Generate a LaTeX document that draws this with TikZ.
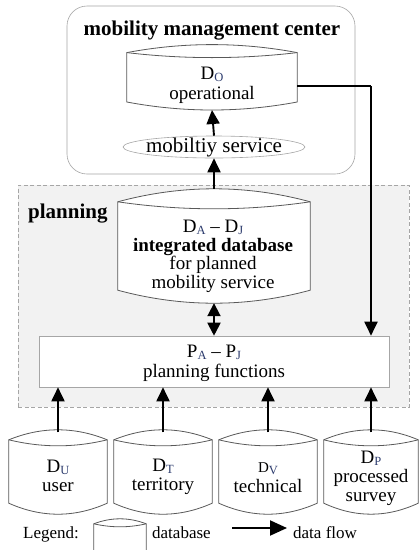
\documentclass[tikz,border=0pt]{standalone}
\usepackage{fontspec}
\setmainfont{Liberation Serif}
\usetikzlibrary{calc,arrows.meta,shapes.geometric}
\definecolor{subc}{RGB}{45,60,110}
\definecolor{regfill}{RGB}{242,242,242}
\newcommand\subx[1]{\raisebox{-0.12em}{\fontsize{12.5}{12.5}\selectfont\color{subc}#1}}
\newcommand\dbdraw[5]{%
 \filldraw[dbline, fill=#5] (#1.north west)
  .. controls ($(#1.north west)!0.333!(#1.north east)+(0,{-1.333*#2})$) and ($(#1.north west)!0.667!(#1.north east)+(0,{-1.333*#2})$) .. (#1.north east)
  -- (#1.south east)
  .. controls ($(#1.south west)!0.667!(#1.south east)+(0,{1.333*#4})$) and ($(#1.south west)!0.333!(#1.south east)+(0,{1.333*#4})$) .. (#1.south west) -- cycle;
 \draw[dbline] (#1.north west) .. controls ($(#1.north west)!0.333!(#1.north east)+(0,{1.333*#3})$) and ($(#1.north west)!0.667!(#1.north east)+(0,{1.333*#3})$) .. (#1.north east);
}
\begin{document}
\begin{tikzpicture}[x=1pt,y=-1pt,
  txt/.style={font=\fontsize{19}{19}\selectfont, align=center, inner sep=0pt, anchor=north},
  dbbox/.style={rectangle, draw=none, inner sep=0pt},
  dbline/.style={draw=black!65, line width=0.8pt},
  flow/.style={line width=1.9pt, -{Triangle[length=14pt,width=13pt]}},
  flowtwo/.style={line width=1.9pt, {Triangle[length=13pt,width=13pt]}-{Triangle[length=13pt,width=13pt]}},
  flowbig/.style={line width=2pt, -{Triangle[length=17pt,width=15pt]}},
  legtxt/.style={font=\fontsize{17}{17}\selectfont, inner sep=0pt, anchor=base west},
  boldtxt/.style={font=\fontsize{21}{21}\selectfont\bfseries, inner sep=0pt}]
\useasboundingbox (0,0) rectangle (419,550);
\clip (0,0) rectangle (419,550);
\fill[white] (0,0) rectangle (419,550);
% regions
\node[draw=black!35, line width=0.6pt, rounded corners=20pt, minimum width=288, minimum height=168, inner sep=0pt] (mmc) at (211,90) {};
\node[draw=black!35, fill=regfill, dash pattern=on 4pt off 2.5pt, line width=0.6pt, minimum width=391, minimum height=222, inner sep=0pt] (plan) at (213.5,296) {};
\node[boldtxt, anchor=base] (mmct) at (212,35) {mobility management center};
\node[boldtxt, anchor=base west] (plant) at (28,218) {planning};
% planning functions
\node[draw=black!35, fill=white, line width=0.6pt, minimum width=350, minimum height=51, inner sep=0pt] (pf) at (214,361.5) {};
% ellipse
\node[ellipse, draw=black!35, fill=white, line width=0.6pt, minimum width=182, minimum height=22, inner sep=0pt] (ms) at (214,147) {};
% databases
\node[dbbox, minimum width=170, minimum height=49] (do) at (212,77.3) {};
\node[dbbox, minimum width=192, minimum height=88] (da) at (214,246) {};
\node[dbbox, minimum width=98, minimum height=63] (du) at (58,471.5) {};
\node[dbbox, minimum width=98, minimum height=63] (dt) at (163,471.5) {};
\node[dbbox, minimum width=98, minimum height=63] (dv) at (268,471.5) {};
\node[dbbox, minimum width=94, minimum height=63] (dp) at (371,471.5) {};
\node[dbbox, minimum width=52, minimum height=36] (ldb) at (120,542) {};
\dbdraw{do}{8}{5}{8}{white}
\dbdraw{da}{13}{7}{13}{white}
\dbdraw{du}{10}{6}{11}{white}
\dbdraw{dt}{10}{6}{11}{white}
\dbdraw{dv}{10}{6}{11}{white}
\dbdraw{dp}{10}{6}{11}{white}
\dbdraw{ldb}{5}{3}{5}{white}
% texts
\node[txt, font=\fontsize{19}{20}\selectfont] (dot) at (212,66.7) {D\subx{O}\\operational};
\node[txt, font=\fontsize{19}{18.5}\selectfont] (dat) at (213,220) {D\subx{A} -- D\subx{J}\\\textbf{integrated database}\\for planned\\mobility service};
\node[txt, font=\fontsize{19}{19.5}\selectfont] (pft) at (214,345) {P\subx{A} -- P\subx{J}\\planning functions};
\node[txt, font=\fontsize{21}{21}\selectfont, anchor=center] (mst) at (214,147.5) {mobiltiy service};
\node[txt, font=\fontsize{19}{19}\selectfont] (dut) at (58,460) {D\subx{U}\\user};
\node[txt, font=\fontsize{19}{19}\selectfont] (dtt) at (163,459) {D\subx{T}\\territory};
\node[txt, font=\fontsize{19}{20}\selectfont] (dvt) at (268,462) {{\fontsize{15}{15}\selectfont D}\subx{V}\\technical};
\node[txt, font=\fontsize{19}{19}\selectfont] (dpt) at (371,451) {D\subx{P}\\processed\\survey};
% legend
\node[legtxt] (lgt) at (23,538) {Legend:};
\node[legtxt] (ldbt) at (152,538) {database};
\node[legtxt] (lft) at (293,538) {data flow};
\coordinate (la) at (232,528);
\coordinate (lb) at (287,528);
\draw[flowbig] (la) -- (lb);
% connectors
\draw[flow] (ms.north) -- ($(do.south)+(0,8)$);
\draw[flow] ($(da.north)+(0,-13)$) -- (ms.south);
\draw[flowtwo] ($(da.south)+(0,13)$) -- (pf.north);
\coordinate (bend) at (371,86);
\draw[line width=1.9pt] (do.east |- bend) -- (bend);
\draw[flow] (bend) -- (bend |- pf.north);
\draw[flow] ($(du.north)+(0,-7.5)$) -- (du.north |- pf.south);
\draw[flow] ($(dt.north)+(0,-7.5)$) -- (dt.north |- pf.south);
\draw[flow] ($(dv.north)+(0,-7.5)$) -- (dv.north |- pf.south);
\draw[flow] ($(dp.north)+(0,-7.5)$) -- (dp.north |- pf.south);
\end{tikzpicture}
\end{document}
